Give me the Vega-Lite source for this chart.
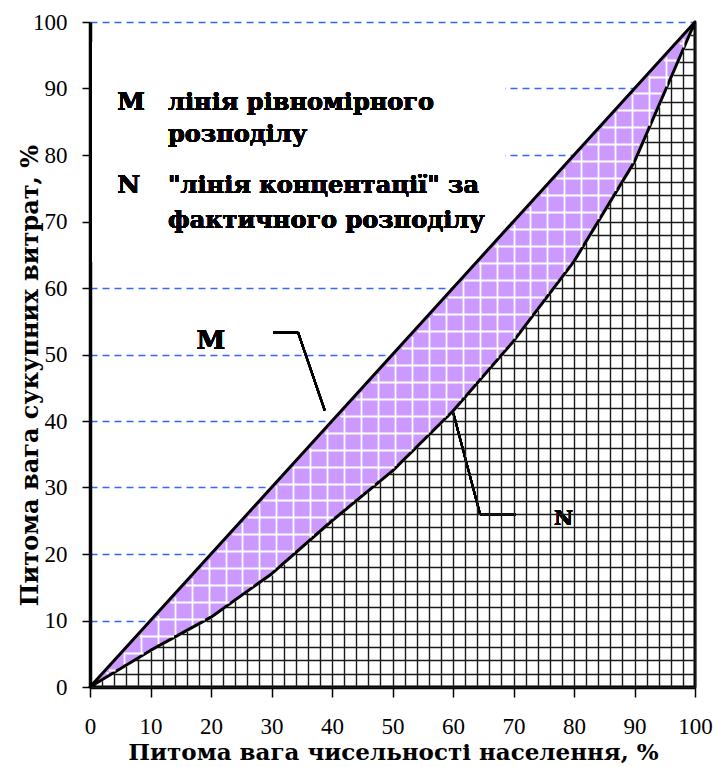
{
  "$schema": "https://vega.github.io/schema/vega-lite/v6.json",
  "width": 605,
  "height": 665,
  "autosize": "none",
  "padding": {"left": 90, "top": 22, "right": 20, "bottom": 80},
  "background": "white",
  "config": {"view": {"stroke": null}},
  "data": {"values": [
    {"x": 0, "m": 0, "n": 0},
    {"x": 10, "m": 10, "n": 5.5},
    {"x": 20, "m": 20, "n": 10.5},
    {"x": 30, "m": 30, "n": 17},
    {"x": 40, "m": 40, "n": 25},
    {"x": 50, "m": 50, "n": 32.5},
    {"x": 60, "m": 60, "n": 41.5},
    {"x": 70, "m": 70, "n": 52},
    {"x": 80, "m": 80, "n": 64},
    {"x": 90, "m": 90, "n": 79},
    {"x": 100, "m": 100, "n": 100}
  ]},
  "resolve": {"axis": {"x": "independent", "y": "independent"}},
  "layer": [
    {
      "mark": {"type": "rect", "fill": "white"},
      "encoding": {
        "x": {"datum": 0.4, "type": "quantitative", "axis": null},
        "x2": {"datum": 68.6},
        "y": {"datum": 64, "type": "quantitative", "axis": null},
        "y2": {"datum": 97}
      }
    },
    {
      "mark": {"type": "area", "color": "#cc99ff"},
      "encoding": {
        "x": {"field": "x", "type": "quantitative",
          "scale": {"domain": [0, 100], "nice": false},
          "axis": {
            "orient": "bottom",
            "title": "Питома вага чисельності населення, %",
            "values": [0, 10, 20, 30, 40, 50, 60, 70, 80, 90, 100],
            "grid": false,
            "domainColor": "black", "domainWidth": 3.5,
            "tickColor": "black", "tickWidth": 1.5, "tickSize": 10,
            "labelFont": "Liberation Serif", "labelFontSize": 23, "labelColor": "black",
            "labelFlush": false, "labelPadding": 36, "labelBaseline": "alphabetic",
            "titleFont": "DejaVu Serif", "titleFontSize": 23, "titleFontWeight": "bold", "titleColor": "black",
            "titleX": 303, "titleY": 72, "titleBaseline": "alphabetic"
          }
        },
        "y": {"field": "n", "type": "quantitative",
          "scale": {"domain": [0, 100], "nice": false},
          "axis": {
            "orient": "left",
            "title": "Питома вага сукупних витрат, %",
            "values": [0, 10, 20, 30, 40, 50, 60, 70, 80, 90, 100],
            "grid": true, "gridColor": "#3366ff", "gridDash": [7, 5], "gridWidth": 1.7,
            "domainColor": "black", "domainWidth": 3.5,
            "tickColor": "black", "tickWidth": 1.5, "tickSize": 8,
            "labelFont": "Liberation Serif", "labelFontSize": 23, "labelColor": "black",
            "labelPadding": 15,
            "titleFont": "DejaVu Serif", "titleFontSize": 24, "titleFontWeight": "bold", "titleColor": "black",
            "titleX": -53, "titleY": 353, "titleBaseline": "alphabetic", "titleAngle": -90
          }
        },
        "y2": {"field": "m"}
      }
    },
    {
      "mark": {"type": "area", "fill": "white", "stroke": "black", "strokeWidth": 3, "strokeJoin": "round"},
      "encoding": {
        "x": {"field": "x", "type": "quantitative",
          "axis": {
            "orient": "bottom", "zindex": 1,
            "values": [2.8, 5.6, 8.4, 11.2, 14, 16.8, 19.6, 22.4, 25.2, 28, 30.8, 33.6, 36.4, 39.2, 42, 44.8, 47.6, 50.4, 53.2, 56, 58.8, 61.6, 64.4, 67.2, 70, 72.8, 75.6, 78.4, 81.2, 84, 86.8, 89.6, 92.4, 95.2, 98],
            "grid": true, "gridColor": "white", "gridWidth": 1.8,
            "gridDash": {"expr": "[0, (100-datum.value)*6.65+3, max(0,(datum.value-(datum.value<=10?datum.value*0.55:datum.value<=20?5.5+(datum.value-10)*0.5:datum.value<=30?10.5+(datum.value-20)*0.65:datum.value<=40?17+(datum.value-30)*0.8:datum.value<=50?25+(datum.value-40)*0.75:datum.value<=60?32.5+(datum.value-50)*0.9:datum.value<=70?41.5+(datum.value-60)*1.05:datum.value<=80?52+(datum.value-70)*1.2:datum.value<=90?64+(datum.value-80)*1.5:79+(datum.value-90)*2.1))*6.65-6), 3000]"},
            "domain": false, "ticks": false, "labels": false, "title": null
          }
        },
        "y": {"field": "n", "type": "quantitative",
          "axis": {
            "orient": "left", "zindex": 1,
            "values": [2.55, 5.1, 7.65, 10.2, 12.75, 15.3, 17.85, 20.4, 22.95, 25.5, 28.05, 30.6, 33.15, 35.7, 38.25, 40.8, 43.35, 45.9, 48.45, 51, 53.55, 56.1, 58.65, 61.2, 63.75, 66.3, 68.85, 71.4, 73.95, 76.5, 79.05, 81.6, 84.15, 86.7, 89.25, 91.8, 94.35, 96.9, 99.45],
            "grid": true, "gridColor": "white", "gridWidth": 1.8,
            "gridDash": {"expr": "[0, datum.value*6.05+3, max(0,((datum.value<=5.5?datum.value/0.55:datum.value<=10.5?10+(datum.value-5.5)/0.5:datum.value<=17?20+(datum.value-10.5)/0.65:datum.value<=25?30+(datum.value-17)/0.8:datum.value<=32.5?40+(datum.value-25)/0.75:datum.value<=41.5?50+(datum.value-32.5)/0.9:datum.value<=52?60+(datum.value-41.5)/1.05:datum.value<=64?70+(datum.value-52)/1.2:datum.value<=79?80+(datum.value-64)/1.5:90+(datum.value-79)/2.1)-datum.value)*6.05-6), 3000]"},
            "domain": false, "ticks": false, "labels": false, "title": null
          }
        },
        "y2": {"datum": 0}
      }
    },
    {
      "mark": {"type": "line", "color": "black", "strokeWidth": 3},
      "encoding": {
        "x": {"field": "x", "type": "quantitative",
          "axis": {
            "orient": "bottom", "zindex": 1, "tickCount": 50,
            "grid": true, "gridColor": "#1a1a1a", "gridWidth": 1.4,
            "gridDash": {"expr": "[0, (100-(datum.value<=10?datum.value*0.55:datum.value<=20?5.5+(datum.value-10)*0.5:datum.value<=30?10.5+(datum.value-20)*0.65:datum.value<=40?17+(datum.value-30)*0.8:datum.value<=50?25+(datum.value-40)*0.75:datum.value<=60?32.5+(datum.value-50)*0.9:datum.value<=70?41.5+(datum.value-60)*1.05:datum.value<=80?52+(datum.value-70)*1.2:datum.value<=90?64+(datum.value-80)*1.5:79+(datum.value-90)*2.1))*6.65+1, 3000]"},
            "domain": false, "ticks": false, "labels": false, "title": null
          }
        },
        "y": {"field": "m", "type": "quantitative",
          "axis": {
            "orient": "left", "zindex": 1, "tickCount": 50,
            "grid": true, "gridColor": "#1a1a1a", "gridWidth": 1.4,
            "gridDash": {"expr": "[0, (datum.value<=5.5?datum.value/0.55:datum.value<=10.5?10+(datum.value-5.5)/0.5:datum.value<=17?20+(datum.value-10.5)/0.65:datum.value<=25?30+(datum.value-17)/0.8:datum.value<=32.5?40+(datum.value-25)/0.75:datum.value<=41.5?50+(datum.value-32.5)/0.9:datum.value<=52?60+(datum.value-41.5)/1.05:datum.value<=64?70+(datum.value-52)/1.2:datum.value<=79?80+(datum.value-64)/1.5:90+(datum.value-79)/2.1)*6.05+1, 3000]"},
            "domain": false, "ticks": false, "labels": false, "title": null
          }
        }
      }
    },
    {
      "mark": {"type": "rule", "color": "black", "strokeWidth": 2},
      "encoding": {
        "x": {"datum": 30.3, "type": "quantitative", "axis": null},
        "x2": {"datum": 34.4},
        "y": {"datum": 53.3, "type": "quantitative", "axis": null},
        "y2": {"datum": 53.3}
      }
    },
    {
      "mark": {"type": "rule", "color": "black", "strokeWidth": 2},
      "encoding": {
        "x": {"datum": 34.4, "type": "quantitative", "axis": null},
        "x2": {"datum": 38.8},
        "y": {"datum": 53.3, "type": "quantitative", "axis": null},
        "y2": {"datum": 41.6}
      }
    },
    {
      "mark": {"type": "rule", "color": "black", "strokeWidth": 2},
      "encoding": {
        "x": {"datum": 70.4, "type": "quantitative", "axis": null},
        "x2": {"datum": 64.5},
        "y": {"datum": 25.9, "type": "quantitative", "axis": null},
        "y2": {"datum": 25.9}
      }
    },
    {
      "mark": {"type": "rule", "color": "black", "strokeWidth": 2},
      "encoding": {
        "x": {"datum": 64.5, "type": "quantitative", "axis": null},
        "x2": {"datum": 60.05},
        "y": {"datum": 25.9, "type": "quantitative", "axis": null},
        "y2": {"datum": 41.2}
      }
    },
    {
      "mark": {"type": "text", "text": "M", "font": "DejaVu Serif", "fontWeight": "bold", "fontSize": 26, "align": "center", "baseline": "middle", "color": "black"},
      "encoding": {
        "x": {"datum": 20, "type": "quantitative", "axis": null},
        "y": {"datum": 52, "type": "quantitative", "axis": null}
      }
    },
    {
      "mark": {"type": "text", "text": "N", "font": "DejaVu Serif", "fontWeight": "bold", "fontSize": 21, "align": "center", "baseline": "middle", "color": "black"},
      "encoding": {
        "x": {"datum": 78.3, "type": "quantitative", "axis": null},
        "y": {"datum": 25.2, "type": "quantitative", "axis": null}
      }
    },
    {
      "mark": {"type": "text", "text": "M", "font": "DejaVu Serif", "fontWeight": "bold", "fontSize": 25, "align": "left", "baseline": "alphabetic", "color": "black"},
      "encoding": {
        "x": {"datum": 4.5, "type": "quantitative", "axis": null},
        "y": {"datum": 86.8, "type": "quantitative", "axis": null}
      }
    },
    {
      "mark": {"type": "text", "text": "лінія рівномірного", "font": "DejaVu Serif", "fontWeight": "bold", "fontSize": 24, "align": "left", "baseline": "alphabetic", "color": "black"},
      "encoding": {
        "x": {"datum": 12.9, "type": "quantitative", "axis": null},
        "y": {"datum": 86.8, "type": "quantitative", "axis": null}
      }
    },
    {
      "mark": {"type": "text", "text": "розподілу", "font": "DejaVu Serif", "fontWeight": "bold", "fontSize": 24, "align": "left", "baseline": "alphabetic", "color": "black"},
      "encoding": {
        "x": {"datum": 12.9, "type": "quantitative", "axis": null},
        "y": {"datum": 81.95, "type": "quantitative", "axis": null}
      }
    },
    {
      "mark": {"type": "text", "text": "N", "font": "DejaVu Serif", "fontWeight": "bold", "fontSize": 25, "align": "left", "baseline": "alphabetic", "color": "black"},
      "encoding": {
        "x": {"datum": 4.5, "type": "quantitative", "axis": null},
        "y": {"datum": 74.3, "type": "quantitative", "axis": null}
      }
    },
    {
      "mark": {"type": "text", "text": "\"лінія концентації\" за", "font": "DejaVu Serif", "fontWeight": "bold", "fontSize": 24, "align": "left", "baseline": "alphabetic", "color": "black"},
      "encoding": {
        "x": {"datum": 12.9, "type": "quantitative", "axis": null},
        "y": {"datum": 74.3, "type": "quantitative", "axis": null}
      }
    },
    {
      "mark": {"type": "text", "text": "фактичного розподілу", "font": "DejaVu Serif", "fontWeight": "bold", "fontSize": 24, "align": "left", "baseline": "alphabetic", "color": "black"},
      "encoding": {
        "x": {"datum": 12.9, "type": "quantitative", "axis": null},
        "y": {"datum": 69.0, "type": "quantitative", "axis": null}
      }
    }
  ]
}
